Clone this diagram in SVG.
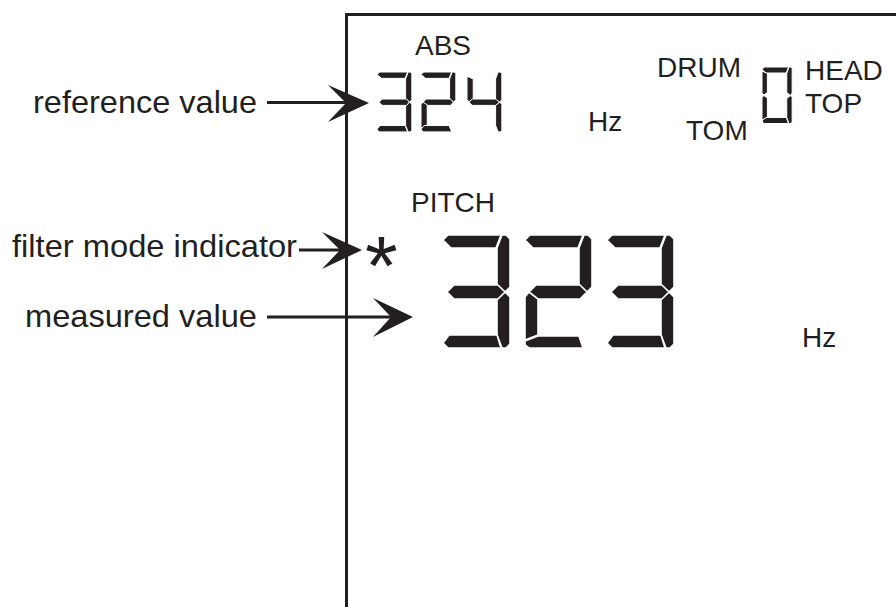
<svg xmlns="http://www.w3.org/2000/svg" width="896" height="607" viewBox="0 0 896 607">
<style>
.lbl{font-family:"Liberation Sans",Arial,sans-serif;font-size:32px;fill:#231f20}
.disp{font-family:"Liberation Sans",Arial,sans-serif;font-size:28px;fill:#231f20}
.seg{fill:#231f20;stroke:#ffffff;stroke-width:1.6;stroke-linejoin:round;vector-effect:non-scaling-stroke}
.sseg{fill:#231f20;stroke:#ffffff;stroke-width:1;stroke-linejoin:round;vector-effect:non-scaling-stroke}
.ln{stroke:#231f20;stroke-width:3;fill:none}
.head{fill:#231f20}
</style>
<defs>
<polygon id="Ba" class="seg" points="0,5 5,0 58,0 53,13 8,13"/>
<polygon id="Bb" class="seg" points="59,0 63,0 67,4 67,52 62,57 54,50 54,13"/>
<polygon id="Bc" class="seg" points="54,64 62,57 67,62 67,109 63,113 59,113 54,100"/>
<polygon id="Bd" class="seg" points="0,108 6,100 54,100 58,113 5,113"/>
<polygon id="Bd2" class="seg" points="0,106 13,101 54,101 58,113 4,113 0,110"/>
<polygon id="Be" class="seg" points="0,62 4,57 13,64 13,100 0,105"/>
<polygon id="Bg" class="seg" points="4,57 11,50 55,50 62,57 55,64 11,64"/>
<polygon id="Sa" class="sseg" points="0,5 5,0 59,0 54,12 9,12"/>
<polygon id="Sb" class="sseg" points="60,0 64,0 67,3 67,52 63,57 55,51 55,13"/>
<polygon id="Sc" class="sseg" points="55,63 63,57 67,61 67,110 64,113 60,113 55,101"/>
<polygon id="Sd" class="sseg" points="0,108 6,101 54,101 59,113 4,113"/>
<polygon id="Se" class="sseg" points="0,61 4,57 12,62 12,100 0,106"/>
<polygon id="Sf" class="sseg" points="0,52 0,8 12,13 12,51 4,56"/>
<polygon id="Sg" class="sseg" points="4,57 10,51 57,51 62,57 57,63 10,63"/>
</defs>

<g id="frame">
<line class="ln" x1="346.5" y1="13" x2="346.5" y2="607"/>
<line class="ln" x1="345" y1="14.5" x2="896" y2="14.5"/>
</g>

<g id="labels">
<g id="label-reference"><text class="lbl" x="33" y="113" textLength="224" lengthAdjust="spacingAndGlyphs">reference value</text></g>
<g id="label-filter"><text class="lbl" x="12" y="257" textLength="285" lengthAdjust="spacingAndGlyphs">filter mode indicator</text></g>
<g id="label-measured"><text class="lbl" x="25" y="327" textLength="232" lengthAdjust="spacingAndGlyphs">measured value</text></g>
</g>

<g id="connectors">
<line class="ln" x1="267" y1="102.5" x2="346" y2="102.5"/>
<polygon class="head" points="369,103 328,85 346,103 328,122"/>
<line class="ln" x1="299" y1="250" x2="342" y2="250"/>
<polygon class="head" points="362,250 322,232 340,250 322,269"/>
<line class="ln" x1="267" y1="317" x2="392" y2="317"/>
<polygon class="head" points="413,317 373,298 391,317 373,337"/>
</g>

<g id="display-top">
<text class="disp" x="415" y="55">ABS</text>
<g id="ref-digits">
<g transform="translate(377,72) scale(0.52,0.53)"><use href="#Sa"/><use href="#Sb"/><use href="#Sc"/><use href="#Sd"/><use href="#Sg"/></g>
<g transform="translate(421,72) scale(0.52,0.53)"><use href="#Sa"/><use href="#Sb"/><use href="#Sg"/><use href="#Se"/><use href="#Sd"/></g>
<g transform="translate(467,72) scale(0.52,0.53)"><use href="#Sf"/><use href="#Sg"/><use href="#Sb"/><use href="#Sc"/></g>
</g>
<text class="disp" x="588" y="131">Hz</text>
<text class="disp" x="657" y="77">DRUM</text>
<text class="disp" x="686" y="140">TOM</text>
<g id="drum-digit" transform="translate(762,67) scale(0.45,0.5)"><use href="#Sa"/><use href="#Sb"/><use href="#Sc"/><use href="#Sd"/><use href="#Se"/><use href="#Sf"/></g>
<text class="disp" x="805" y="80">HEAD</text>
<text class="disp" x="805" y="113">TOP</text>
</g>

<g id="display-main">
<text class="disp" x="411" y="212">PITCH</text>
<text class="disp" x="365" y="295" style="font-size:84px;font-weight:300">*</text>
<g id="pitch-digits">
<g transform="translate(443,235)"><use href="#Ba"/><use href="#Bb"/><use href="#Bc"/><use href="#Bd"/><use href="#Bg"/></g>
<g transform="translate(525,235)"><use href="#Ba"/><use href="#Bb"/><use href="#Bg"/><use href="#Be"/><use href="#Bd2"/></g>
<g transform="translate(607,235)"><use href="#Ba"/><use href="#Bb"/><use href="#Bc"/><use href="#Bd"/><use href="#Bg"/></g>
</g>
<text class="disp" x="802" y="347">Hz</text>
</g>
</svg>
